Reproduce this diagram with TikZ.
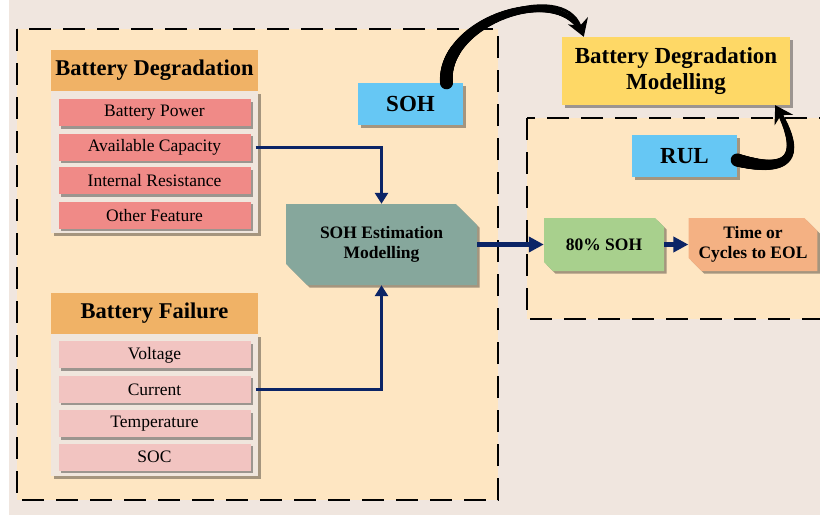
\documentclass[tikz,border=0pt]{standalone}
\usepackage{fontspec}
\setmainfont{Liberation Serif}
\usepackage{xcolor}
\usetikzlibrary{shapes.misc, arrows.meta, positioning, shadows, decorations.markings}
\definecolor{pagebg}{HTML}{F0E6DF}
\definecolor{zonefill}{HTML}{FEE6C2}
\definecolor{headorange}{HTML}{F0B266}
\definecolor{panelbg}{HTML}{F0E6DD}
\definecolor{degred}{HTML}{F08A87}
\definecolor{failpink}{HTML}{F2C4C1}
\definecolor{tagblue}{HTML}{66C7F4}
\definecolor{estgreen}{HTML}{86A79C}
\definecolor{pctgreen}{HTML}{A8D08D}
\definecolor{eolorange}{HTML}{F4B183}
\definecolor{modelyellow}{HTML}{FED866}
\definecolor{navy}{HTML}{0B2466}
\tikzset{
    shade/.style={drop shadow={shadow xshift=2.5pt, shadow yshift=-2.5pt, fill=black, opacity=0.35}},
    zone/.style={draw=black, fill=zonefill, line width=2.5pt, dash pattern=on 22pt off 12pt},
    header/.style={rectangle, minimum width=207pt, minimum height=41pt, inner sep=0pt, text centered, fill=headorange, font=\fontsize{22.5}{26}\selectfont\bfseries},
    panel/.style={rectangle, minimum width=207pt, minimum height=142pt, inner sep=0pt, fill=panelbg, shade},
    degitem/.style={rectangle, minimum width=192pt, minimum height=27pt, inner sep=0pt, text centered, fill=degred, font=\fontsize{17.5}{20}\selectfont, shade},
    failitem/.style={degitem, fill=failpink},
    tag/.style={rectangle, minimum width=105pt, minimum height=42pt, inner sep=0pt, text centered, fill=tagblue, font=\fontsize{23}{26}\selectfont\bfseries, shade},
    cutbox/.style={chamfered rectangle, chamfered rectangle corners={north east, south west}, chamfered rectangle xsep=10pt, inner sep=0pt, align=center, font=\fontsize{17.5}{20}\selectfont\bfseries, shade},
    arrow/.style={line width=3.5pt, draw=navy, -{Triangle[length=11pt,width=13pt]}},
    bigarrow/.style={line width=5pt, draw=navy, -{Triangle[length=15pt,width=15pt]}},
    % thick at the start, thin at the head
    curvearrow/.style={line width=3pt, draw=black, -{Stealth[length=17pt,width=21pt]},
        postaction={decorate, decoration={markings,
            mark=between positions 0 and 0.93 step 1pt with {
                \fill[black] (0,0) circle[radius={6.5-4.5*\pgfkeysvalueof{/pgf/decoration/mark info/distance from start}/\pgfdecoratedpathlength}];}}}}
}
\begin{document}
\begin{tikzpicture}[x=1pt, y=1pt]
    \clip (0,0) rectangle (820,-515);
    \fill[pagebg] (9,0) rectangle (820,-515);

    % dashed zones
    \draw[zone] (17,-29) rectangle (498,-500);
    \draw[zone] (527,-118) rectangle (840,-319);

    % degradation panel
    \node (deghead) [header] at (154.5,-70.5) {Battery Degradation};
    \node (degpanel) [panel, below=0pt of deghead] {};
    \node (deghead) [header] at (154.5,-70.5) {Battery Degradation};
    \node (power) [degitem, below=8pt of deghead] {Battery Power};
    \node (cap) [degitem, below=7pt of power] {Available Capacity};
    \node (res) [degitem, below=6pt of cap] {Internal Resistance};
    \node (other) [degitem, below=7pt of res] {Other Feature};

    % failure panel
    \node (failhead) [header] at (154.5,-313.5) {Battery Failure};
    \node (failpanel) [panel, below=0pt of failhead] {};
    \node (failhead) [header] at (154.5,-313.5) {Battery Failure};
    \node (volt) [failitem, below=7pt of failhead] {Voltage};
    \node (curr) [failitem, below=7pt of volt] {Current};
    \node (temp) [failitem, below=7pt of curr] {Temperature};
    \node (soc) [failitem, below=6pt of temp] {SOC};

    \node (soh) [tag] at (410.5,-104) {SOH};
    \node (est) [cutbox, fill=estgreen, minimum width=191pt, minimum height=81pt, chamfered rectangle xsep=18pt] at (381.5,-244.5) {SOH Estimation\\Modelling};

    \node (model) [rectangle, fill=modelyellow, minimum width=228pt, minimum height=68pt, align=center, font=\fontsize{23}{26}\selectfont\bfseries, shade] at (676,-71) {Battery Degradation\\Modelling};
    \node (rul) [tag] at (684.5,-156) {RUL};
    \node (pct) [cutbox, fill=pctgreen, minimum width=120pt, minimum height=53pt] at (604,-244.5) {80\% SOH};
    \node (eol) [cutbox, fill=eolorange, minimum width=120pt, minimum height=53pt] at (753,-244.5) {Time or\\Cycles to EOL};

    \draw [arrow] ([xshift=5pt]cap.east) -| (est.north);
    \draw [arrow] ([xshift=5pt]curr.east) -| (est.south);
    \draw [bigarrow] (est.east) -- (pct.west);
    \draw [bigarrow] (pct.east) -- (eol.west);

    \draw [curvearrow] ([xshift=36pt]soh.north) to[out=95, in=110, looseness=1.1] ([xshift=22pt]model.north west);
    \draw [curvearrow] ([yshift=-4pt]rul.east) to[out=-15, in=-60, looseness=2.2] ([xshift=-15pt]model.south east);
\end{tikzpicture}
\end{document}
